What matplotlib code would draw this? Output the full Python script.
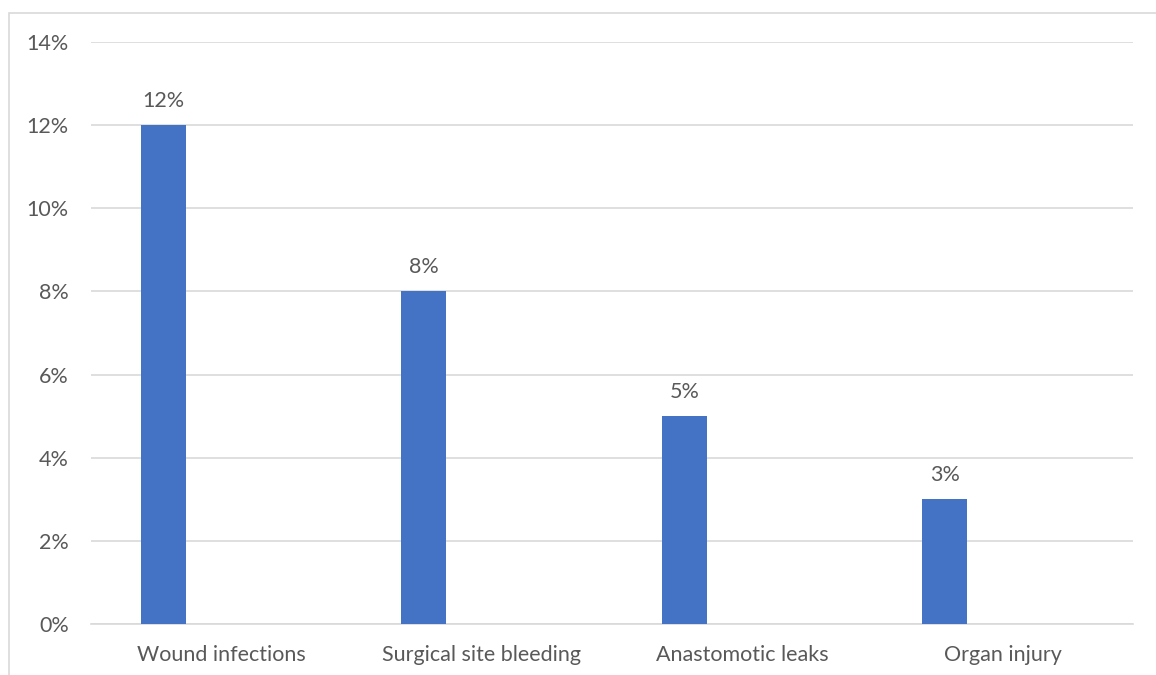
import numpy as np
import matplotlib.pyplot as plt
from matplotlib.patches import Rectangle
from matplotlib.ticker import PercentFormatter

categories = ["Wound infections", "Surgical site bleeding", "Anastomotic leaks", "Organ injury"]
rates = [12, 8, 5, 3]
yticks = [0, 2, 4, 6, 8, 10, 12, 14]

plt.rcParams['font.family'] = ['Lato', 'DejaVu Sans']
text_col = '#595959'

fig = plt.figure(figsize=(11.56, 6.75), dpi=100)
ax = fig.add_axes([91/1156, 51/675, (1133-91)/1156, (624-42)/675])

# chart border (top and left visible, rest cropped)
fig.add_artist(Rectangle((9/1156, -0.1), 1.2, (675-13)/675 + 0.1, transform=fig.transFigure,
                         fill=False, edgecolor='#d9d9d9', linewidth=1.2))

x = np.arange(len(categories))
ax.bar(x - 0.222, rates, width=0.173, color='#4472c4', zorder=3)
for xi, v in zip(x, rates):
    ax.text(xi - 0.222, v + 0.35, f"{v}%", ha='center', va='bottom', fontsize=15.5, color=text_col)

ax.set_xlim(-0.5, len(categories) - 0.5)
ax.set_ylim(0, 14)
ax.set_yticks(yticks)
ax.yaxis.set_major_formatter(PercentFormatter(decimals=0))
ax.set_xticks(x)
ax.set_xticklabels(categories)
ax.grid(axis='y', color='#d9d9d9', linewidth=1.2, zorder=0)
for s in ['top', 'right', 'left']:
    ax.spines[s].set_visible(False)
ax.spines['bottom'].set_color('#d9d9d9')
ax.spines['bottom'].set_linewidth(1.2)
ax.tick_params(axis='both', length=0, labelsize=15.5, colors=text_col)
ax.tick_params(axis='y', pad=16)
ax.tick_params(axis='x', pad=15)

plt.savefig("out.png")
plt.close()
